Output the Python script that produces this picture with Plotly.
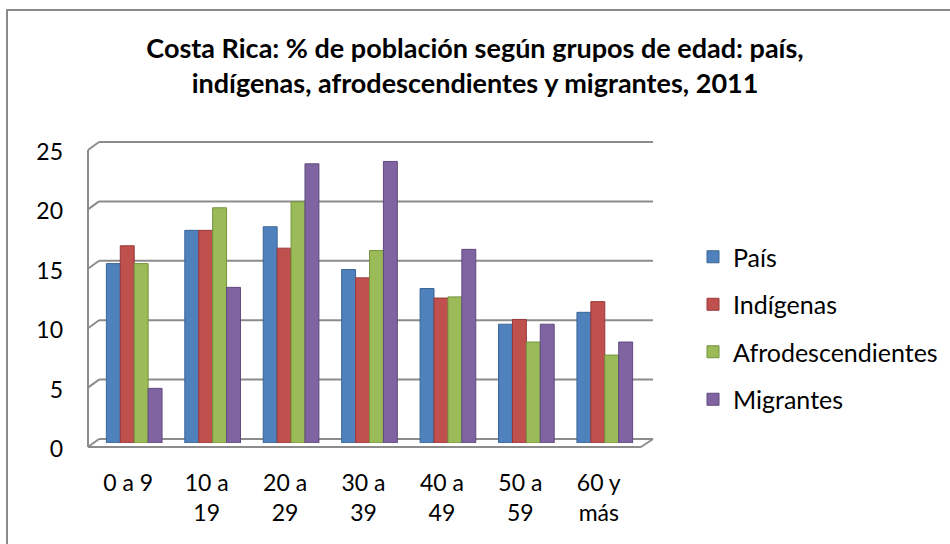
import plotly.graph_objects as go

# ---- data ----
categories = ["0 a 9", "10 a 19", "20 a 29", "30 a 39", "40 a 49", "50 a 59", "60 y más"]
tick_labels = ["0 a 9", "10 a<br>19", "20 a<br>29", "30 a<br>39", "40 a<br>49", "50 a<br>59", "60 y<br>más"]
series_names = ["País", "Indígenas", "Afrodescendientes", "Migrantes"]
pais = [15.1, 17.9, 18.2, 14.6, 13.0, 10.0, 11.0]
indigenas = [16.6, 17.9, 16.4, 13.9, 12.2, 10.4, 11.9]
afrodescendientes = [15.1, 19.8, 20.3, 16.2, 12.3, 8.5, 7.4]
migrantes = [4.6, 13.1, 23.5, 23.7, 16.3, 10.0, 8.5]
y_ticks = [0, 5, 10, 15, 20, 25]
title_text = ("Costa Rica: % de población según grupos de edad: país,<br>"
              "indígenas, afrodescendientes y migrantes, 2011")

# ---- style ----
W, H = 950, 544
L, R, T, B = 95, 644, 146, 443          # plot area in pixels
YMAX = 25
fills = ["#4F81BD", "#C0504D", "#9BBB59", "#8064A2"]
edges = ["#3A6596", "#96393A", "#75923C", "#5F4A7E"]
grid_col = "#8C8C8C"
FONT = "Lato"

def fx(px):
    return (px - L) / (R - L)

def fy(px):
    return (B - px) / (B - T)

fig = go.Figure()
for name, vals, fc, ec in zip(series_names, [pais, indigenas, afrodescendientes, migrantes], fills, edges):
    fig.add_trace(go.Bar(
        x=categories, y=vals, name=name, legendgroup=name,
        marker=dict(color=fc, line=dict(color=ec, width=1)),
    ))

shapes = []
# back wall gridlines + left-wall diagonals (3D look)
for v in y_ticks:
    frac = v / YMAX
    shapes.append(dict(type="line", xref="paper", yref="y domain", ysizemode="pixel",
                       yanchor=frac, x0=fx(99), x1=fx(653), y0=4, y1=4,
                       line=dict(color=grid_col, width=2), layer="below"))
    shapes.append(dict(type="line", xref="paper", yref="y domain", ysizemode="pixel",
                       yanchor=frac, x0=fx(88), x1=fx(99), y0=-4, y1=4,
                       line=dict(color=grid_col, width=2), layer="below"))
# left wall front edge
shapes.append(dict(type="line", xref="paper", yref="y domain", ysizemode="pixel",
                   yanchor=0, x0=fx(88), x1=fx(88), y0=-4, y1=(B - T) - 4,
                   line=dict(color=grid_col, width=2), layer="below"))
# floor front edge and right diagonal
shapes.append(dict(type="line", xref="paper", yref="y domain", ysizemode="pixel",
                   yanchor=0, x0=fx(88), x1=fx(641), y0=-4, y1=-4,
                   line=dict(color=grid_col, width=2), layer="below"))
shapes.append(dict(type="line", xref="paper", yref="y domain", ysizemode="pixel",
                   yanchor=0, x0=fx(641), x1=fx(653), y0=-4, y1=4,
                   line=dict(color=grid_col, width=2), layer="below"))
# chart border (extends beyond the right/bottom of the view)
shapes.append(dict(type="rect", xref="paper", yref="paper",
                   x0=fx(7), x1=fx(970), y0=fy(570), y1=fy(10),
                   line=dict(color="#8A8A8A", width=2), fillcolor="rgba(0,0,0,0)", layer="below"))

fig.update_layout(
    width=W, height=H,
    margin=dict(l=L, r=W - R, t=T, b=H - B, autoexpand=False),
    paper_bgcolor="white", plot_bgcolor="rgba(0,0,0,0)",
    font=dict(family=FONT, color="#000000", size=23),
    title=dict(text=title_text, x=475 / W, xref="container", xanchor="center",
               y=1 - 58 / H, yref="container", yanchor="top",
               font=dict(family=FONT, size=27, color="#000000", weight="bold")),
    barmode="group", bargap=0.29, bargroupgap=0,
    showlegend=True,
    legend=dict(x=fx(693), xanchor="left", y=fy(328), yanchor="middle",
                font=dict(family=FONT, size=25, color="#000000"),
                traceorder="grouped", tracegroupgap=12,
                bgcolor="rgba(0,0,0,0)"),
    shapes=shapes,
)
fig.update_xaxes(type="category", categoryorder="array", categoryarray=categories,
                 tickvals=categories, ticktext=tick_labels,
                 showgrid=False, zeroline=False, showline=False, ticks="",
                 ticklabelstandoff=24, ticklabelshift=-6,
                 tickfont=dict(family=FONT, size=23, color="#000000"))
fig.update_yaxes(range=[0, YMAX], tickvals=y_ticks, showgrid=False, zeroline=False,
                 showline=False, ticks="", ticklabelstandoff=31, ticklabelshift=6,
                 tickfont=dict(family=FONT, size=23, color="#000000"))

fig.write_html("out.html", config={"displayModeBar": False},
               post_script="document.body.style.margin = '0';")
